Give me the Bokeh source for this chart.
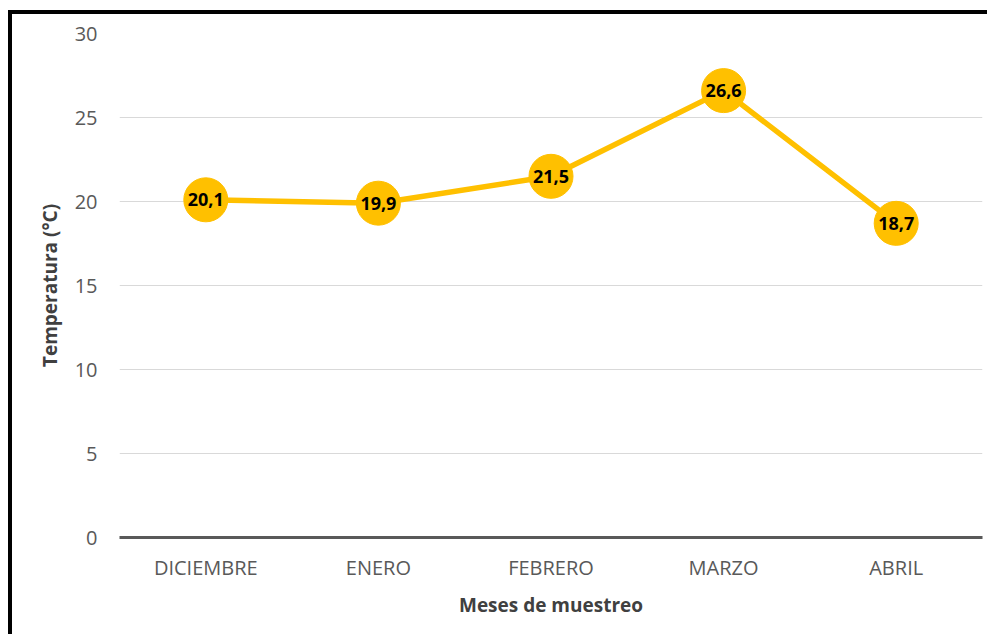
from bokeh.plotting import figure
from bokeh.models import ColumnDataSource, FactorRange, Range1d, FixedTicker, LabelSet
from bokeh.core.properties import value
from bokeh.embed import file_html
from bokeh.resources import INLINE

months = ["DICIEMBRE", "ENERO", "FEBRERO", "MARZO", "ABRIL"]
temps = [20.1, 19.9, 21.5, 26.6, 18.7]
labels = ["20,1", "19,9", "21,5", "26,6", "18,7"]
y_ticks = [0, 5, 10, 15, 20, 25, 30]

src = ColumnDataSource(dict(x=months, y=temps, lab=labels))

FONT = "Open Sans"
p = figure(x_range=FactorRange(*months, range_padding=0), y_range=Range1d(0, 30),
           width=979, height=624, output_backend="svg", toolbar_location=None,
           min_border_left=107, min_border_top=19, min_border_right=9, min_border_bottom=101)
p.styles = {"margin-left": "8px", "margin-top": "10px",
            "border-left": "4px solid black", "border-top": "4px solid black"}
p.outline_line_color = None

p.line("x", "y", source=src, line_color="#FFC000", line_width=5.5)
p.scatter("x", "y", source=src, size=44, fill_color="#FFC000", line_color="#FFC000")
p.add_layout(LabelSet(x="x", y="y", text="lab", source=src, text_align="center",
                      text_baseline="middle", text_font=value(FONT), text_font_size=value("18px"),
                      text_font_style="bold", text_color="black"))

p.yaxis.ticker = FixedTicker(ticks=y_ticks)
p.yaxis.axis_line_color = None
p.yaxis.major_tick_line_color = None
p.yaxis.minor_tick_line_color = None
p.yaxis.major_label_standoff = 16
p.yaxis.major_label_text_font = FONT
p.yaxis.major_label_text_font_size = "20px"
p.yaxis.major_label_text_color = "#595959"
p.yaxis.axis_label = "Temperatura (°C)"
p.yaxis.axis_label_text_font = FONT
p.yaxis.axis_label_text_font_size = "19px"
p.yaxis.axis_label_text_font_style = "bold"
p.yaxis.axis_label_text_color = "#404040"
p.yaxis.axis_label_standoff = 9

p.xaxis.axis_line_color = "#595959"
p.xaxis.axis_line_width = 3
p.xaxis.major_tick_line_color = None
p.xaxis.minor_tick_line_color = None
p.xaxis.major_label_standoff = 10
p.xaxis.major_label_text_font = FONT
p.xaxis.major_label_text_font_size = "20px"
p.xaxis.major_label_text_color = "#595959"
p.xaxis.axis_label = "Meses de muestreo"
p.xaxis.axis_label_text_font = FONT
p.xaxis.axis_label_text_font_size = "19px"
p.xaxis.axis_label_text_font_style = "bold"
p.xaxis.axis_label_text_color = "#404040"
p.xaxis.axis_label_standoff = 8

p.xgrid.grid_line_color = None
p.ygrid.grid_line_color = "#d9d9d9"
p.ygrid.grid_line_width = 1

open("out.html", "w").write(file_html(p, INLINE))
